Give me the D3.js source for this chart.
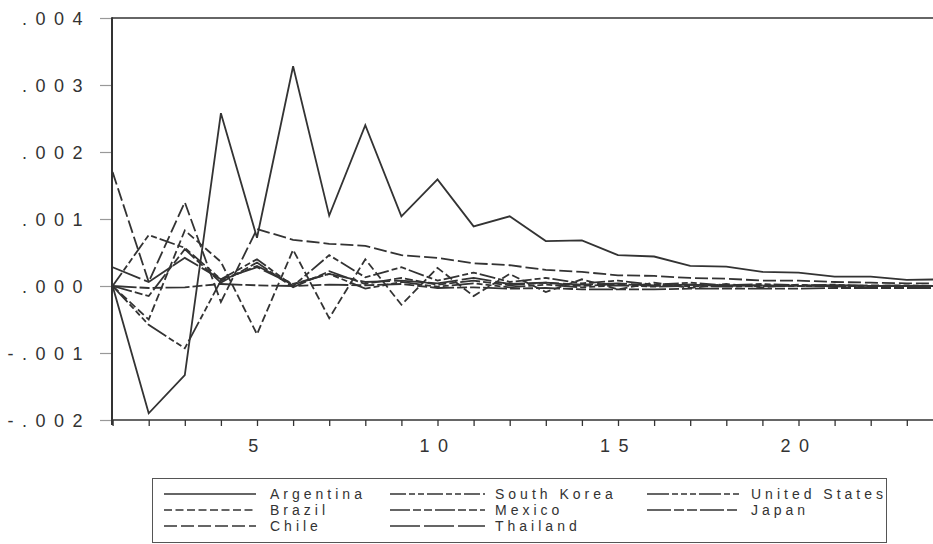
<!DOCTYPE html>
<html><head><meta charset="utf-8">
<script src="https://cdn.jsdelivr.net/npm/d3@7/dist/d3.min.js"></script>
<style>
html,body{margin:0;padding:0;background:#fff;}
svg{display:block;font-family:"Liberation Sans",Arial,sans-serif;}
</style></head>
<body>
<svg id="chart" width="933" height="544"></svg>
<script>
const periods = d3.range(1, 25);
const countries = ["Argentina","South Korea","United States","Brazil","Mexico","Japan","Chile","Thailand"];
const argentina    = [0,-0.0019,-0.00133,0.00258,0.00072,0.00328,0.00105,0.0024,0.00104,0.00159,0.00089,0.00104,0.00067,0.00068,0.00046,0.00044,0.00030,0.00029,0.00021,0.00020,0.00014,0.00014,0.00009,0.00010];
const southKorea   = [0,0.00076,0.00057,0.0001,0.0004,0,0.00046,0.00013,0.00028,0.00008,0.0002,0.00006,0.00012,0.00004,0.00008,0.00002,0.00005,0.00001,0.00003,0.00001,0.00002,0,0.00001,0];
const unitedStates = [0,-0.00058,-0.00093,0.00008,0.0003,0.00003,0.00018,-0.00004,0.00006,-0.00001,0.00004,-0.00002,0.00002,-0.00002,0.00001,-0.00001,0,-0.00001,0,0,0,0,0,0];
const brazil       = [0,-0.0005,0.00083,0.00036,-0.00072,0.00054,-0.00048,0.0004,-0.00028,0.00027,-0.00015,0.00018,-0.00009,0.0001,-0.00005,0.00005,-0.00003,0.00003,-0.00002,0.00002,-0.00001,0.00001,0,0];
const mexico       = [0,-0.00015,0.00055,0.00005,0.00035,-0.00002,0.00022,0.00003,0.00012,0.00002,0.00008,0.00001,0.00005,0,0.00003,0,0.00002,0,0.00001,0,0.00001,0,0,0];
const japan        = [0,-0.00003,-0.00002,0.00003,0.00001,0,0.00002,0.00001,0.00003,-0.00003,-0.00002,-0.00004,-0.00003,-0.00005,-0.00005,-0.00005,-0.00004,-0.00004,-0.00004,-0.00004,-0.00003,-0.00003,-0.00003,-0.00003];
const chile        = [0.0017,0.00006,0.00125,-0.00024,0.00085,0.00069,0.00063,0.00060,0.00046,0.00042,0.00034,0.00031,0.00024,0.00021,0.00016,0.00015,0.00012,0.00011,0.00008,0.00008,0.00006,0.00005,0.00004,0.00004];
const thailand     = [0.00028,0.00006,0.00042,0.0001,0.00028,0.00002,0.00018,0.00006,0.00008,0.00004,0.00012,0.00003,0.00005,0.00002,0.00004,0.00001,0.00002,0.00001,0.00001,0,0.00001,0,0,0];
const seriesValues = [argentina, southKorea, unitedStates, brazil, mexico, japan, chile, thailand];
const yTicks = [-0.002,-0.001,0,0.001,0.002,0.003,0.004];
const yTickLabels = ["-.002","-.001",".000",".001",".002",".003",".004"];
const xTicks = [5,10,15,20];
const xTickLabels = ["5","10","15","20"];

const dashes = {
  "Argentina": null,
  "South Korea": "16,3,6,3,6,3",
  "United States": "22,3,6,3,6,3,6,3",
  "Brazil": "8,3.5",
  "Mexico": "20,3,8,3,8,3",
  "Japan": "24,3,10,3,10,3",
  "Chile": "13,4",
  "Thailand": "30,4"
};
const ink = "#333";

const svg = d3.select("#chart");
const pLeft = 112, pTop = 18, pBottom = 420;
const x = d3.scaleLinear().domain([1,24]).range([112.6, 942.9]);
const y = d3.scaleLinear().domain([-0.002,0.004]).range([pBottom, pTop]);

svg.append("defs").append("clipPath").attr("id","clip")
  .append("rect").attr("x",pLeft).attr("y",0).attr("width",933-pLeft).attr("height",pBottom+2);

const yAxis = d3.axisLeft(y).tickValues(yTicks).tickSize(12).tickFormat((d,i)=>yTickLabels[i]);
const gy = svg.append("g").attr("transform",`translate(${pLeft},0)`).call(yAxis);
gy.select(".domain").remove();
gy.selectAll(".tick line").attr("stroke","#999").attr("stroke-width",1.2);
gy.selectAll(".tick text").attr("fill","#333").attr("font-size",18)
  .attr("font-family","'Liberation Sans',Arial,sans-serif")
  .style("letter-spacing","8.5px").attr("x",-21).attr("dy","0.36em");

const xAxis = d3.axisBottom(x).tickValues(periods).tickSize(6).tickFormat(d=>{
  const i = xTicks.indexOf(d); return i>=0 ? xTickLabels[i] : "";
});
const gx = svg.append("g").attr("transform",`translate(0,${pBottom})`).call(xAxis);
gx.select(".domain").remove();
gx.selectAll(".tick line").attr("stroke",ink).attr("stroke-width",1.3);
gx.selectAll(".tick text").attr("fill","#333").attr("font-size",18)
  .attr("font-family","'Liberation Sans',Arial,sans-serif")
  .style("letter-spacing","8.5px").attr("y",19).attr("dy","0.71em");

svg.append("line").attr("x1",pLeft).attr("x2",933).attr("y1",pTop).attr("y2",pTop).attr("stroke",ink).attr("stroke-width",1.6);
svg.append("line").attr("x1",pLeft).attr("x2",933).attr("y1",pBottom).attr("y2",pBottom).attr("stroke",ink).attr("stroke-width",1.6);
svg.append("line").attr("x1",pLeft).attr("x2",pLeft).attr("y1",pTop-0.8).attr("y2",pBottom+5).attr("stroke",ink).attr("stroke-width",2);

const line = d3.line().x((d,i)=>x(periods[i])).y(d=>y(d));
const gl = svg.append("g").attr("clip-path","url(#clip)");
countries.forEach((c,k)=>{
  gl.append("path").datum(seriesValues[k]).attr("d",line)
    .attr("fill","none").attr("stroke",ink).attr("stroke-width",1.8)
    .attr("stroke-linejoin","miter").attr("stroke-dasharray",dashes[c]);
});

const lg = svg.append("g");
lg.append("rect").attr("x",152.5).attr("y",478.5).attr("width",734).attr("height",64)
  .attr("fill","#fff").attr("stroke","#555").attr("stroke-width",1);
const colLine = [164,390,647], colLen = [92,95,93], colText = [270,495,751];
const rowY = [494,510,526];
const layout = [[0,0],[0,1],[0,2],[1,0],[1,1],[1,2],[2,0],[2,1]];
countries.forEach((c,k)=>{
  const [r,col] = layout[k];
  lg.append("line").attr("x1",colLine[col]).attr("x2",colLine[col]+colLen[col])
    .attr("y1",rowY[r]).attr("y2",rowY[r]).attr("stroke",ink).attr("stroke-width",1.6)
    .attr("stroke-dasharray",dashes[c]);
  lg.append("text").attr("x",colText[col]).attr("y",rowY[r]).attr("dy","0.36em")
    .attr("font-size",14).attr("fill","#333").style("letter-spacing","4px").text(c);
});
</script>
</body></html>
